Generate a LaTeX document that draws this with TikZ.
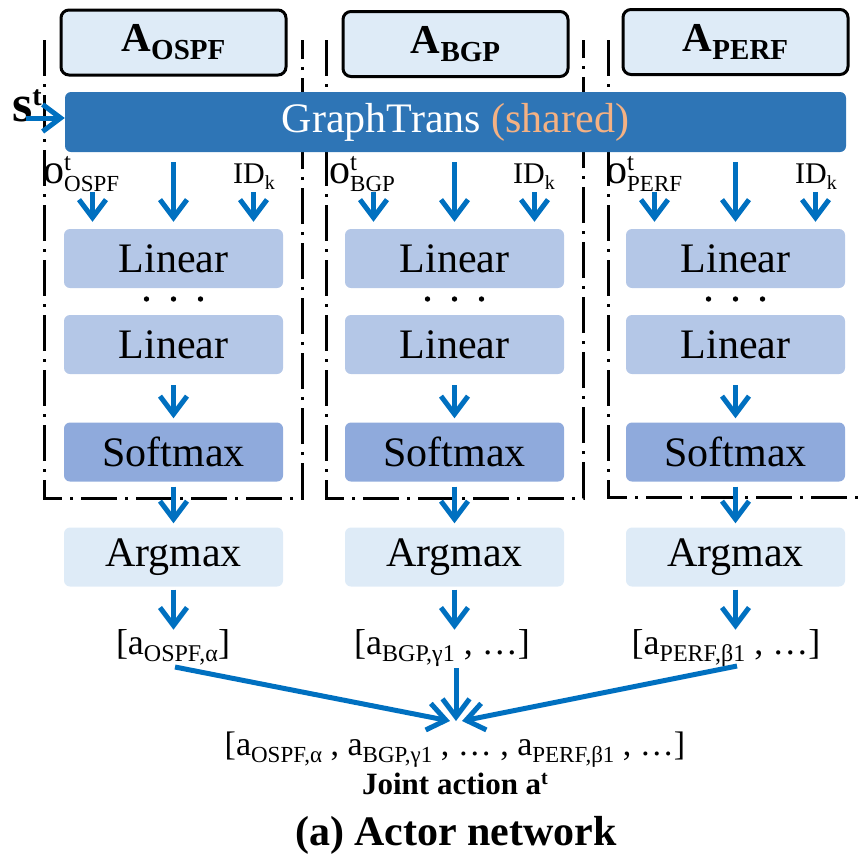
\documentclass[tikz,border=0pt]{standalone}
\usepackage{fontspec}
\setmainfont{Liberation Serif}
\usetikzlibrary{arrows.meta}
\definecolor{hdrfill}{HTML}{DEEBF7}
\definecolor{barfill}{HTML}{2E75B6}
\definecolor{sharedc}{HTML}{F4B183}
\definecolor{linfill}{HTML}{B4C7E7}
\definecolor{smfill}{HTML}{8FAADC}
\definecolor{amfill}{HTML}{DEEBF7}
\definecolor{arrblue}{HTML}{0070C0}
\newcommand\fsz[1]{\fontsize{#1}{#1}\selectfont}
% lowered subscript in a given size
\newcommand\lowsub[3]{\raisebox{-#3}{\fsz{#1}#2}}
% observation label: big o with superscript t and subscript
\newcommand\obs[2]{{\fsz{42pt}#1}\makebox[0pt][l]{\raisebox{13pt}{\fsz{25pt}t}}\raisebox{-8pt}{\fsz{23pt}#2}}
\newcommand\idk{{\fsz{30pt}ID}\raisebox{-6pt}{\fsz{20pt}k}}
% bold agent name with lowered subscript
\newcommand\agent[1]{\raisebox{-3pt}{\fsz{41pt}\bfseries A\raisebox{-8pt}{\fsz{29pt}#1}}}
\begin{document}
\begin{tikzpicture}[x=1pt,y=-1pt,
  hdr/.style={draw=black,line width=3pt,rounded corners=8pt,fill=hdrfill,
    minimum width=225pt,minimum height=65pt,inner sep=0pt},
  blk/.style={rounded corners=6pt,minimum width=219pt,minimum height=59pt,
    inner sep=0pt,font=\fsz{42pt}},
  lin/.style={blk,fill=linfill},
  smx/.style={blk,fill=smfill},
  amx/.style={blk,fill=amfill},
  flow/.style={draw=arrblue,line width=5pt,-{Straight Barb[length=18pt,width=27pt]}},
  frame/.style={line width=3pt,dash pattern=on 36pt off 8pt on 3pt off 8pt},
  txt/.style={inner sep=0pt,anchor=base west},
  lbl/.style={inner sep=0pt,anchor=base,font=\fsz{36pt}},
]
\useasboundingbox (0,0) rectangle (861,854);

% dash-dot frames around each agent's policy head
\draw[frame] (44,40) -- (44,498) -- (302,498) -- (302,40);
\draw[frame] (326,40) -- (326,498) -- (583,498) -- (583,40);
\draw[frame] (608,40) -- (608,497) -- (861,497);

% agent headers
\node[hdr] (hA) at (173.5,42.5) {\agent{OSPF}};
\node[hdr] (hB) at (455.5,44) {\agent{BGP}};
\node[hdr] (hC) at (735.5,42) {\agent{PERF}};

% shared graph transformer
\node[fill=barfill,rounded corners=6pt,minimum width=781pt,minimum height=60pt,
  inner sep=0pt,font=\fsz{42pt},text=white] (gt) at (455.5,122)
  {GraphTrans \textcolor{sharedc}{(shared)}};
\node[txt] (st) at (12,121) {\fsz{52pt}\bfseries s\raisebox{16pt}{\fsz{28pt}t}};
\coordinate (sin) at (26,118);
\draw[flow] (sin) -- (sin -| gt.west);

% observation and id labels
\node[txt] (oA) at (43,183) {\obs{o}{OSPF}};
\node[txt] (oB) at (329,183) {\obs{o}{BGP}};
\node[txt] (oC) at (606,183) {\obs{o}{PERF}};
\node[txt] (iA) at (233,183) {\idk};
\node[txt] (iB) at (513,183) {\idk};
\node[txt] (iC) at (795,183) {\idk};

% per-agent layers
\foreach \n/\cx in {A/173.5,B/454.5,C/735.5}{
  \node[lin] (l1\n) at (\cx,258.5) {Linear};
  \node[lin] (l2\n) at (\cx,344.5) {Linear};
  \node[smx] (sm\n) at (\cx,452) {Softmax};
  \node[amx] (am\n) at (\cx,557) {Argmax};
  \foreach \dx in {-27,0,27}{\fill (\cx+\dx,299) circle (2.7pt);}
  \coordinate (pl\n) at (\cx-81,192);
  \coordinate (pr\n) at (\cx+80,192);
  \draw[flow,shorten <=10pt,shorten >=7pt] (gt.south -| l1\n) -- (l1\n.north);
  \draw[flow,shorten >=7pt] (pl\n) -- (l1\n.north -| pl\n);
  \draw[flow,shorten >=7pt] (pr\n) -- (l1\n.north -| pr\n);
  \draw[flow,shorten <=11pt,shorten >=4pt] (l2\n) -- (sm\n);
  \draw[flow,shorten <=5pt,shorten >=4pt] (sm\n) -- (am\n);
}

% chosen actions
\node[lbl] (aA) at (173,654) {[a\lowsub{24pt}{OSPF,α}{7pt}]};
\node[lbl] (aB) at (442,654) {[a\lowsub{24pt}{BGP,γ1}{7pt} , …]};
\node[lbl] (aC) at (726,654) {[a\lowsub{24pt}{PERF,β1}{7pt} , …]};
\foreach \n in {A,B,C}{
  \draw[flow,shorten <=3pt] (am\n.south) -- ++(0,43);
}

% joint action
\node[lbl,font=\fsz{34pt}] (ja) at (455,755)
  {[a\lowsub{23pt}{OSPF,α}{7pt} , a\lowsub{23pt}{BGP,γ1}{7pt} , … , a\lowsub{23pt}{PERF,β1}{7pt} , …]};
\node[lbl,font=\fsz{31pt}\bfseries] (jt) at (455,794) {Joint action a\raisebox{10pt}{\fsz{20pt}t}};
\node[lbl,font=\fsz{42pt}\bfseries] (cap) at (456,845) {(a) Actor network};

\coordinate (sA) at (175,667);
\coordinate (sB) at (456,668);
\coordinate (sC) at (737,666);
\coordinate (meet) at (456,721);
\draw[flow] (sA) -- ([xshift=-6pt]meet);
\draw[flow] (sB) -- (meet);
\draw[flow] (sC) -- ([xshift=6pt]meet);
\end{tikzpicture}
\end{document}
